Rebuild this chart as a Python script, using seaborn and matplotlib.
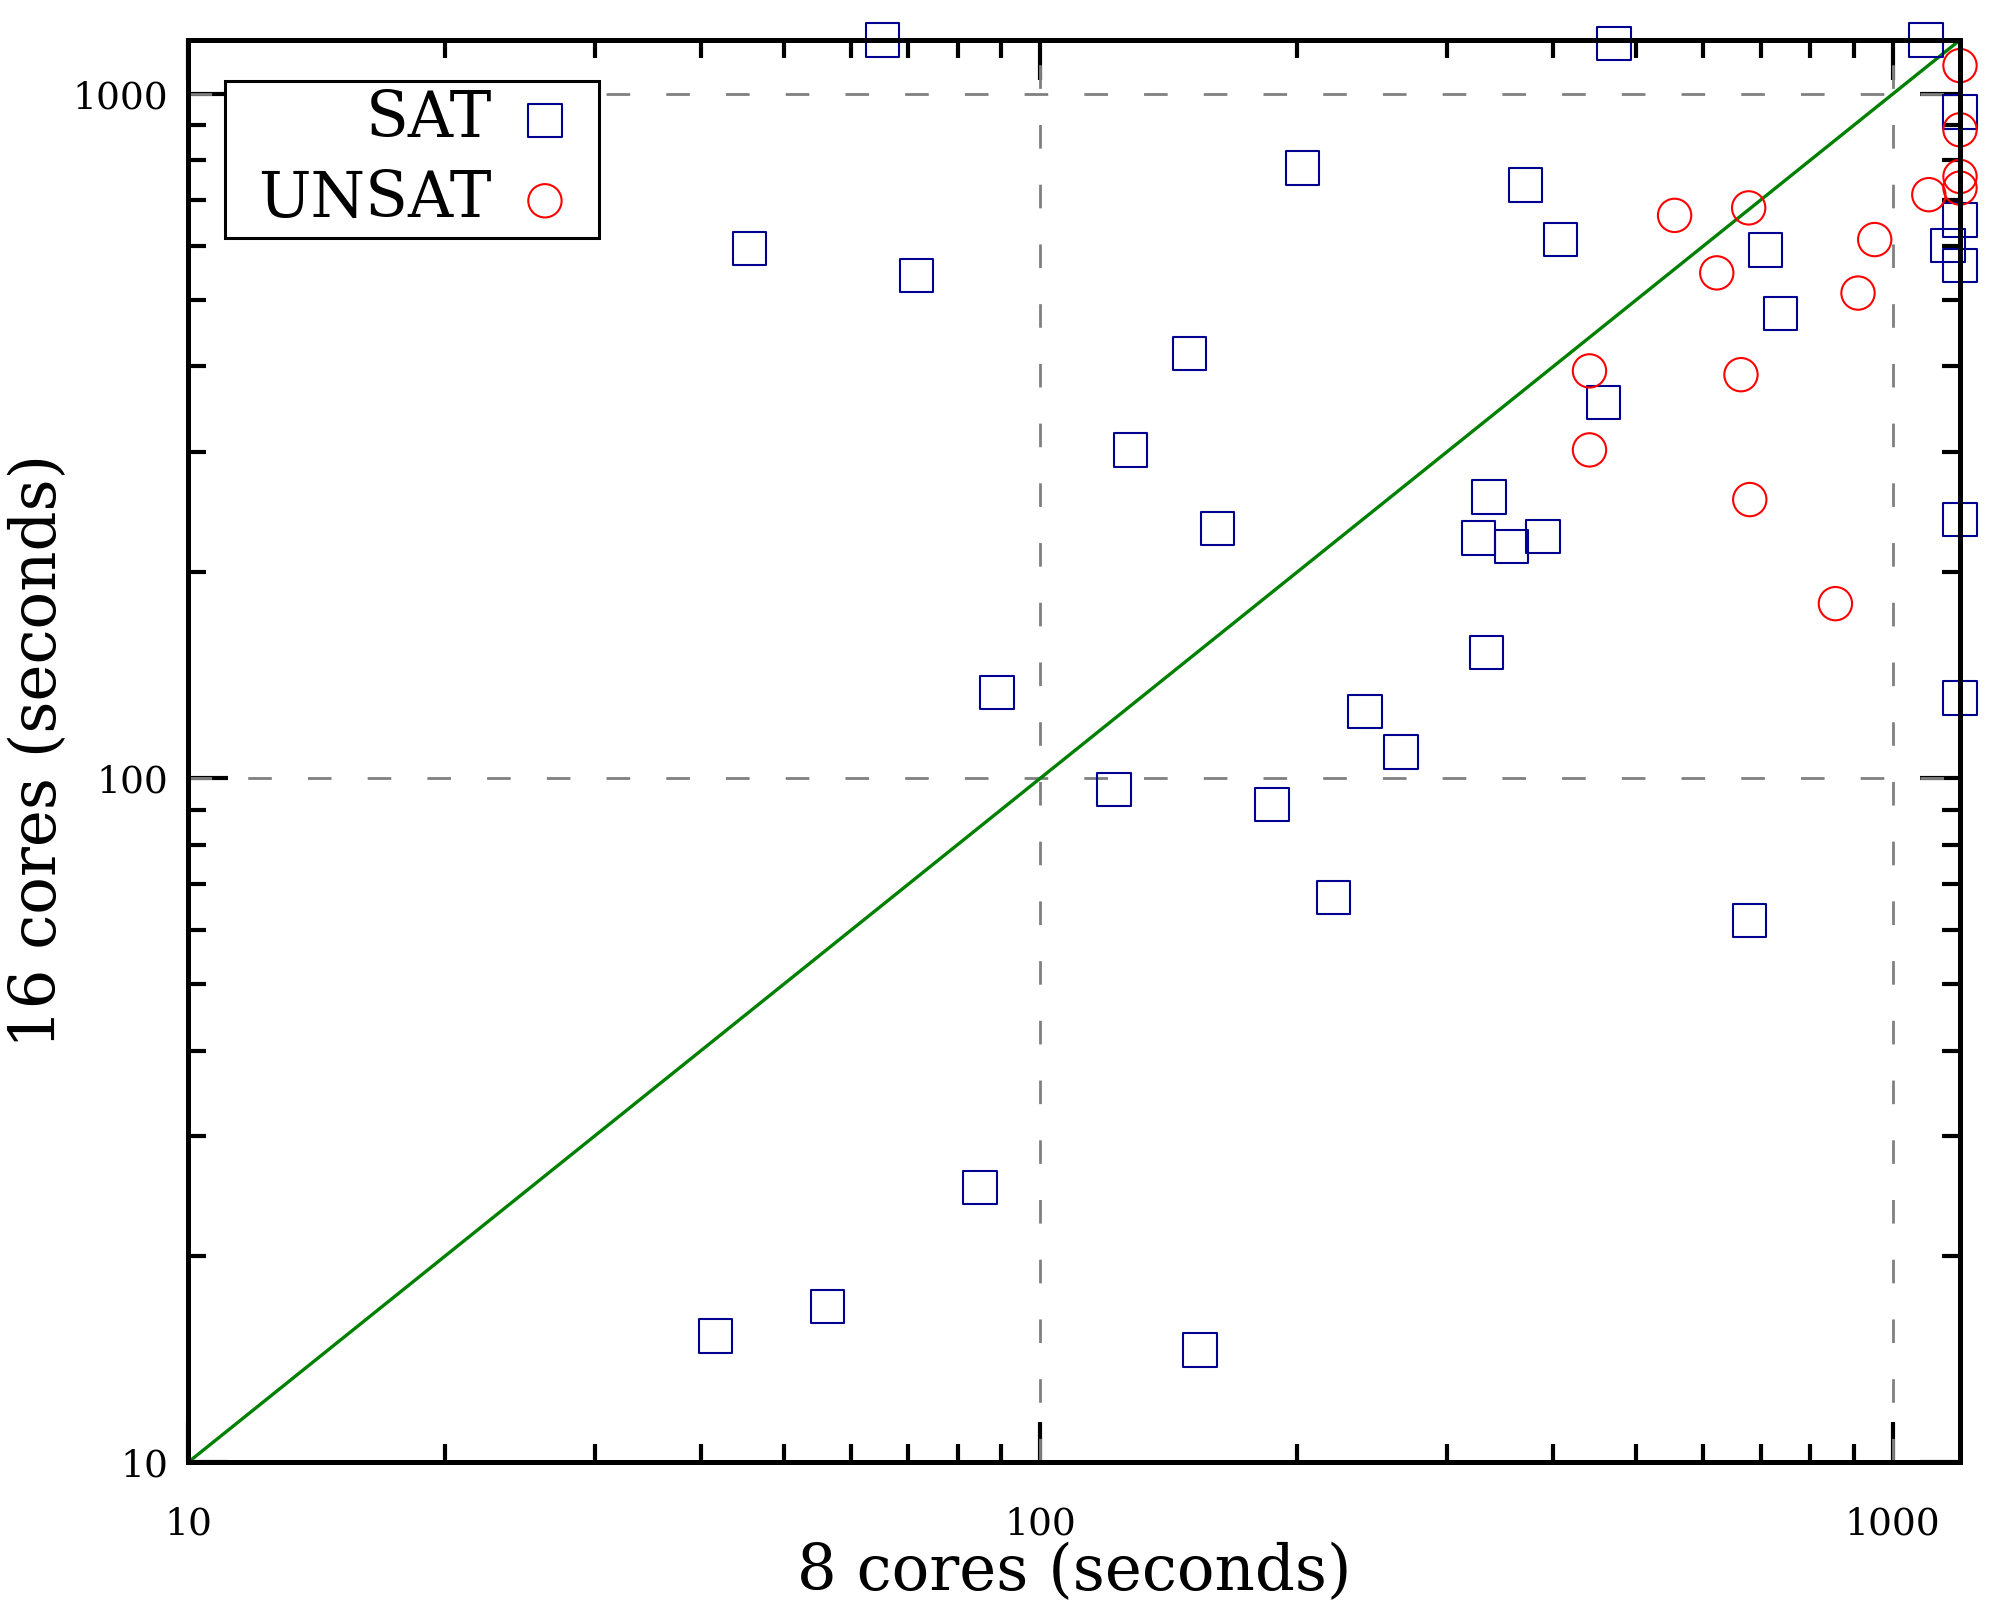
import numpy as np
import pandas as pd
import matplotlib
matplotlib.use("Agg")
import matplotlib.pyplot as plt
import matplotlib.ticker as mticker
from matplotlib.offsetbox import HPacker, DrawingArea
import seaborn as sns

# ---- data (seconds) ----
sat_8 = [65.3, 471, 1095, 45.6, 71.6, 203, 371, 408, 709, 739, 1162, 1200, 1200, 1200,
         1200, 1200, 149.6, 127.7, 161.3, 458, 336, 327, 357, 389, 333.6, 89, 240.5,
         265, 122, 187, 220.7, 680, 85, 56.3, 41.6, 154]
sat_16 = [1200, 1187, 1200, 595, 543.5, 780, 737, 613, 592, 478, 601, 942, 655, 562,
          239, 131, 418, 302, 232, 354, 257.6, 224.6, 218, 225.6, 152.6, 133.6, 125.3,
          109.2, 96.4, 91.6, 67, 62, 25.2, 16.9, 15.3, 14.6]
unsat_8 = [555, 678, 622, 441, 441, 664, 680, 911, 953, 857, 1103, 1200, 1200, 1200, 1200]
unsat_16 = [665, 682, 548, 394, 302, 389, 255.5, 512, 613, 180, 713, 1101, 887, 758, 729]

axis_limits = [10, 1200]
major_ticks = [10, 100, 1000]
major_labels = ["10", "100", "1000"]
series_names = ["SAT", "UNSAT"]

sns.set_style("ticks")
plt.rcParams["font.family"] = ["DejaVu Serif"]
plt.rcParams["mathtext.fontset"] = "dejavuserif"
for k in ["text.color", "axes.labelcolor", "xtick.color", "ytick.color",
          "xtick.labelcolor", "ytick.labelcolor"]:
    plt.rcParams[k] = "black"

fig = plt.figure(figsize=(20, 16), dpi=100)
ax = fig.add_axes([0.094, 0.086, 0.886, 0.889])

ax.set_xscale("log")
ax.set_yscale("log")
ax.set_xlim(axis_limits)
ax.set_ylim(axis_limits)

# dashed grid at major ticks
for t in major_ticks[1:]:
    ax.axvline(t, color="#808080", lw=2.0, ls=(0, (8.5, 13)), zorder=1)
    ax.axhline(t, color="#808080", lw=2.0, ls=(0, (8.5, 13)), zorder=1)

# diagonal
ax.plot(axis_limits, axis_limits, color="#008000", lw=2.4, zorder=2)

sat_df = pd.DataFrame({"x": sat_8, "y": sat_16})
unsat_df = pd.DataFrame({"x": unsat_8, "y": unsat_16})

msize = 24.0 ** 2
sns.scatterplot(data=sat_df, x="x", y="y", ax=ax, marker="s", s=msize,
                facecolors="none", edgecolor="#000090", linewidth=1.5,
                label=series_names[0], clip_on=False, zorder=3)
sns.scatterplot(data=unsat_df, x="x", y="y", ax=ax, marker="o", s=msize,
                facecolors="none", edgecolor="#FF0000", linewidth=1.5,
                label=series_names[1], clip_on=False, zorder=3)

# ticks
ax.xaxis.set_major_locator(mticker.FixedLocator(major_ticks))
ax.yaxis.set_major_locator(mticker.FixedLocator(major_ticks))
ax.xaxis.set_major_formatter(mticker.FixedFormatter(major_labels))
ax.yaxis.set_major_formatter(mticker.FixedFormatter(major_labels))
ax.xaxis.set_minor_locator(mticker.LogLocator(base=10, subs=np.arange(2, 10)))
ax.yaxis.set_minor_locator(mticker.LogLocator(base=10, subs=np.arange(2, 10)))
ax.xaxis.set_minor_formatter(mticker.NullFormatter())
ax.yaxis.set_minor_formatter(mticker.NullFormatter())
ax.tick_params(which="both", direction="in", top=True, right=True, color="black",
               labelcolor="black")
ax.tick_params(which="major", length=29, width=3, labelsize=27)
ax.tick_params(which="minor", length=13, width=3)
ax.tick_params(axis="x", which="major", pad=32)
ax.tick_params(axis="y", which="major", pad=14.5)

for sp in ax.spines.values():
    sp.set_linewidth(3.6)
    sp.set_color("black")
    sp.set_zorder(4)

ax.set_xlabel("8 cores (seconds)", fontsize=45, labelpad=-0.5, color="black")
ax.set_ylabel("16 cores (seconds)", fontsize=45, labelpad=2.5, color="black")

leg = ax.legend(loc="upper left", bbox_to_anchor=(0.0206, 0.9715), borderaxespad=0,
                markerfirst=False, fontsize=45, frameon=True, fancybox=False,
                framealpha=1, edgecolor="black", handlelength=1.48,
                handletextpad=0.11, labelspacing=0.31, borderpad=0.13)
leg.get_frame().set_linewidth(2.2)
leg.set_zorder(5)
for t in leg.get_texts():
    t.set_ha("right")
    t.set_color("black")

# extra left padding inside the legend frame
try:
    hb = leg._legend_handle_box
    spacer = DrawingArea(18.5, 1)
    leg._legend_box._children[1] = HPacker(pad=0, sep=0, children=[spacer, hb],
                                           align="baseline")
    leg._legend_box.set_figure(fig)
except Exception:
    pass

fig.savefig("out.png", dpi=100)
